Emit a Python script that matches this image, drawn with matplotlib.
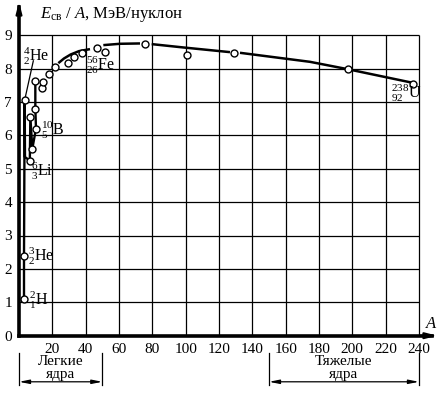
import matplotlib
matplotlib.use('Agg')
import matplotlib.pyplot as plt

plt.rcParams['font.family'] = ['Liberation Serif', 'DejaVu Serif']
plt.rcParams['mathtext.fontset'] = 'custom'
plt.rcParams['mathtext.rm'] = 'Liberation Serif'
plt.rcParams['mathtext.it'] = 'Liberation Serif:italic'

# ---- data ----
zigzag_A = [3.0, 3.0, 3.4, 3.6, 6.5, 6.8, 8.0, 10.2, 9.8, 9.8]
zigzag_E = [1.09, 2.39, 7.07, 5.35, 5.24, 6.56, 5.60, 6.20, 6.80, 7.63]

point_A = [3.0, 3.0, 3.4, 6.5, 6.8, 8.0, 9.8, 10.2, 9.8, 13.6, 14.6, 17.8, 21.6,
           29.6, 33.0, 37.6, 47.0, 51.6, 75.6, 101.0, 129.0, 197.2, 236.2]
point_E = [1.09, 2.39, 7.07, 5.24, 6.56, 5.60, 6.80, 6.20, 7.63, 7.41, 7.60, 7.84, 8.05,
           8.17, 8.35, 8.46, 8.62, 8.50, 8.73, 8.40, 8.47, 7.98, 7.53]

curve1_A = [23.6, 27.0, 31.0, 36.0, 42.6]
curve1_E = [8.16, 8.30, 8.42, 8.52, 8.58]
curve2_A = [50.6, 60.6, 72.6]
curve2_E = [8.70, 8.74, 8.75]
curve3_A = [79.6, 98.6, 126.6]
curve3_E = [8.73, 8.63, 8.49]
curve4_A = [132.6, 174.6, 197.2, 236.4]
curve4_E = [8.47, 8.20, 7.98, 7.57]

x_ticks = [20, 40, 60, 80, 100, 120, 140, 160, 180, 200, 220, 240]
y_ticks = [0, 1, 2, 3, 4, 5, 6, 7, 8, 9]

# He4 pointer line
pointer_A = [3.6, 8.6]
pointer_E = [7.10, 8.23]

labels = [
    (r'${}^{2}_{1}$H', 6.0, 1.07),
    (r'${}^{3}_{2}$He', 5.4, 2.39),
    (r'${}^{6}_{3}$Li', 7.2, 4.91),
    (r'${}^{10}_{5}$B', 13.5, 6.16),
    (r'${}^{4}_{2}$He', 2.4, 8.37),
    (r'${}^{56}_{26}$Fe', 40.2, 8.10),
    (r'${}^{238}_{92}$U', 223.2, 7.26),
]

fig = plt.figure(figsize=(4.45, 3.93), dpi=100)
ax = fig.add_axes([19/445, 57.3/393, 418.3/445, 334/393])
ax.set_xlim(0, 251)
ax.set_ylim(0, 10)

# grid
ax.vlines(x_ticks, 0, 9, color='black', lw=0.9, zorder=1)
ax.hlines(y_ticks[1:], 0, 240, color='black', lw=0.9, zorder=1)

# data lines
ax.plot(zigzag_A, zigzag_E, color='black', lw=1.7, zorder=2)
for ca, ce in [(curve1_A, curve1_E), (curve2_A, curve2_E), (curve3_A, curve3_E), (curve4_A, curve4_E)]:
    ax.plot(ca, ce, color='black', lw=1.8, zorder=2, solid_capstyle='butt')
ax.plot(pointer_A, pointer_E, color='black', lw=0.9, zorder=2)

ax.plot(point_A, point_E, 'o', ms=5, mfc='white', mec='black', mew=1.0, zorder=3, clip_on=False)

for txt, a, e in labels:
    ax.text(a, e, txt, ha='left', va='center', fontsize=11.5, zorder=4)

# spines
for s in ['top', 'right']:
    ax.spines[s].set_visible(False)
ax.spines['left'].set_linewidth(2.6)
ax.spines['bottom'].set_linewidth(2.6)
ax.spines['left'].set_bounds(0, 9.85)
ax.spines['bottom'].set_bounds(0, 248)

ax.set_xticks(x_ticks)
ax.set_xticklabels([str(v) for v in x_ticks])
ax.set_yticks(y_ticks)
ax.set_yticklabels([str(v) for v in y_ticks])
ax.tick_params(length=0, labelsize=11, pad=5)

# axis arrows
ax.annotate('', xy=(0, 1.0), xytext=(0, 0.95), xycoords='axes fraction',
            arrowprops=dict(arrowstyle='-|>,head_length=0.7,head_width=0.18', color='black', lw=1.5,
                            shrinkA=0, shrinkB=0), annotation_clip=False)
ax.annotate('', xy=(1.0, 0), xytext=(0.96, 0), xycoords='axes fraction',
            arrowprops=dict(arrowstyle='-|>,head_length=0.7,head_width=0.18', color='black', lw=1.5,
                            shrinkA=0, shrinkB=0), annotation_clip=False)

ax.text(0.985, 0.035, 'A', transform=ax.transAxes, fontsize=12, style='italic', ha='center', va='center')
fig.text(40/445, 1 - 14/393, r'$E_{\mathrm{св}}$ / $A$, МэВ/нуклон', fontsize=12, ha='left', va='center')

# bottom brackets
trans = ax.get_xaxis_transform()
for x0, x1, t1, t2 in [(0, 50, 'Легкие', 'ядра'), (150, 240, 'Тяжелые', 'ядра')]:
    for xv in (x0, x1):
        ax.plot([xv, xv], [-0.052, -0.148], transform=trans, color='black', lw=0.9, clip_on=False)
    ax.annotate('', xy=(x0, -0.138), xytext=(x1, -0.138), xycoords=trans,
                arrowprops=dict(arrowstyle='<|-|>,head_length=0.6,head_width=0.12', color='black', lw=0.9,
                                shrinkA=0, shrinkB=0), annotation_clip=False)
    xc = (x0 + x1) / 2
    ax.text(xc, -0.078, t1, transform=trans, ha='center', va='center', fontsize=11)
    ax.text(xc, -0.115, t2, transform=trans, ha='center', va='center', fontsize=11)

fig.savefig('out.png', dpi=100)
